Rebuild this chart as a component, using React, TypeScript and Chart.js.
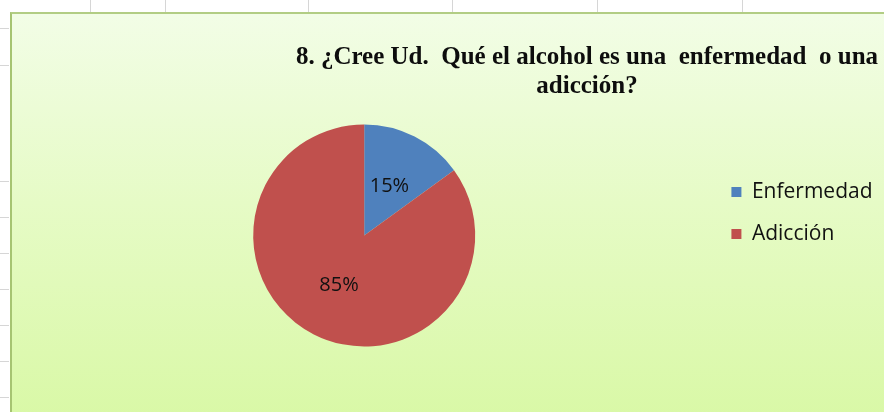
import React, { useEffect, useRef } from "react";
import { Chart, registerables } from "chart.js";

Chart.register(...registerables);

const categories = ["Enfermedad", "Adicción"];
const seriesValues = [15, 85];
const sliceColors = ["#4F81BD", "#C0504D"];
const titleLines = [
  "8. ¿Cree Ud.  Qué el alcohol es una  enfermedad  o una",
  "adicción?",
];

const topCellLines = [90, 165, 308, 452, 597, 742];
const leftCellLines = [28, 65, 181, 217, 253, 289, 325, 361, 397];

const titlePlugin = {
  id: "excelTitle",
  afterDraw(chart: any) {
    const ctx = chart.ctx;
    ctx.save();
    ctx.font = 'bold 25px "Liberation Serif", "Times New Roman", serif';
    ctx.fillStyle = "#0d0d0d";
    ctx.textAlign = "center";
    ctx.textBaseline = "alphabetic";
    ctx.fillText(titleLines[0], 587, 64);
    ctx.fillText(titleLines[1], 587, 93);
    ctx.restore();
  },
};

const pctLabelPlugin = {
  id: "pctLabels",
  afterDatasetsDraw(chart: any) {
    const ctx = chart.ctx;
    const meta = chart.getDatasetMeta(0);
    const data = chart.data.datasets[0].data as number[];
    const total = data.reduce((a, b) => a + b, 0);
    ctx.save();
    ctx.font = '20px "Open Sans", sans-serif';
    ctx.fillStyle = "#111111";
    ctx.textAlign = "center";
    ctx.textBaseline = "middle";
    meta.data.forEach((arc: any, i: number) => {
      const p = arc.tooltipPosition();
      ctx.fillText(Math.round((data[i] / total) * 100) + "%", p.x, p.y);
    });
    ctx.restore();
  },
};

export default function App() {
  const canvasRef = useRef<HTMLCanvasElement | null>(null);

  useEffect(() => {
    if (!canvasRef.current) return;
    const chart = new Chart(canvasRef.current, {
      type: "pie",
      data: {
        labels: categories,
        datasets: [
          {
            data: seriesValues,
            backgroundColor: sliceColors,
            borderWidth: 0,
            radius: 111,
          } as any,
        ],
      },
      options: {
        responsive: false,
        animation: false,
        devicePixelRatio: 1,
        layout: { padding: { left: 18, right: 1.5, top: 160.5, bottom: 101.5 } },
        plugins: {
          legend: {
            position: "right",
            align: "start",
            labels: {
              boxWidth: 10,
              boxHeight: 10,
              padding: 21,
              color: "#111111",
              font: { family: '"Open Sans", sans-serif', size: 21 },
            },
          },
          title: { display: false },
          tooltip: { enabled: false },
        },
      } as any,
      plugins: [titlePlugin, pctLabelPlugin],
    });
    return () => chart.destroy();
  }, []);

  return (
    <div
      style={{
        position: "fixed",
        left: 0,
        top: 0,
        width: 884,
        height: 412,
        overflow: "hidden",
        background: "#ffffff",
      }}
    >
      {topCellLines.map((x) => (
        <div
          key={"t" + x}
          style={{ position: "absolute", left: x, top: 0, width: 1, height: 12, background: "#d6d6d6" }}
        />
      ))}
      {leftCellLines.map((y) => (
        <div
          key={"l" + y}
          style={{ position: "absolute", left: 0, top: y, width: 9, height: 1, background: "#d6d6d6" }}
        />
      ))}
      <div
        style={{
          position: "absolute",
          left: 10,
          top: 12,
          width: 900,
          height: 420,
          borderTop: "2px solid #b2cd84",
          borderLeft: "2px solid #a6c472",
          background: "linear-gradient(to bottom, #f2fde6 0%, #e6fbc6 45%, #d8f8a4 100%)",
        }}
      />
      <canvas
        ref={canvasRef}
        width={884}
        height={412}
        style={{ position: "absolute", left: 0, top: 0, width: 884, height: 412 }}
      />
    </div>
  );
}
